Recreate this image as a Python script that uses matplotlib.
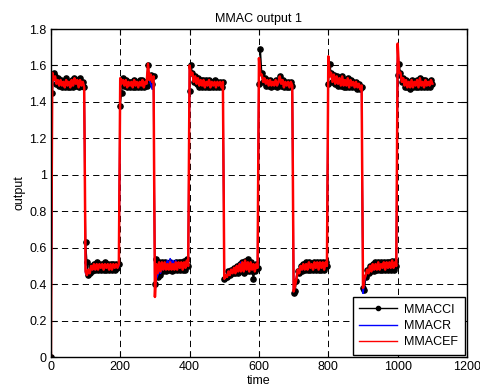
import numpy as np
import matplotlib
matplotlib.use("Agg")
import matplotlib.pyplot as plt

plt.rcParams['font.family'] = ['Liberation Sans', 'DejaVu Sans']
plt.rcParams['font.size'] = 9
plt.rcParams['lines.scale_dashes'] = False

# segment start times (each segment sampled every 4 time units)
seg_starts = [0, 100, 200, 300, 400, 500, 600, 700, 800, 900, 1000]
sample_step = 4

# MMACCI (black, dotted markers)
cci = [
    [0.00, 1.45, 1.56, 1.54, 1.50, 1.53, 1.49, 1.52, 1.48, 1.51, 1.48, 1.53, 1.48, 1.51, 1.48, 1.52, 1.48, 1.53, 1.49, 1.52, 1.48, 1.53, 1.49, 1.51, 1.48],
    [0.63, 0.52, 0.45, 0.46, 0.50, 0.47, 0.51, 0.48, 0.52, 0.48, 0.51, 0.48, 0.51, 0.48, 0.52, 0.48, 0.51, 0.48, 0.51, 0.48, 0.51, 0.48, 0.51, 0.49, 0.51],
    [1.38, 1.45, 1.53, 1.49, 1.52, 1.48, 1.51, 1.48, 1.51, 1.48, 1.52, 1.48, 1.51, 1.48, 1.52, 1.48, 1.52, 1.48, 1.51, 1.49, 1.60, 1.52, 1.55, 1.50, 1.54],
    [0.40, 0.54, 0.44, 0.52, 0.45, 0.52, 0.47, 0.52, 0.47, 0.51, 0.48, 0.52, 0.47, 0.51, 0.48, 0.52, 0.48, 0.52, 0.48, 0.52, 0.48, 0.53, 0.48, 0.54, 0.50],
    [1.46, 1.60, 1.56, 1.51, 1.54, 1.50, 1.53, 1.48, 1.52, 1.48, 1.52, 1.48, 1.52, 1.48, 1.52, 1.48, 1.51, 1.48, 1.52, 1.48, 1.51, 1.48, 1.51, 1.48, 1.51],
    [0.43, 0.44, 0.44, 0.47, 0.45, 0.48, 0.46, 0.49, 0.46, 0.50, 0.46, 0.51, 0.47, 0.52, 0.46, 0.53, 0.47, 0.54, 0.47, 0.52, 0.47, 0.43, 0.47, 0.51, 0.49],
    [1.50, 1.69, 1.56, 1.51, 1.53, 1.49, 1.52, 1.49, 1.52, 1.48, 1.51, 1.49, 1.52, 1.48, 1.51, 1.54, 1.49, 1.52, 1.48, 1.51, 1.48, 1.51, 1.48, 1.51, 1.49],
    [0.35, 0.36, 0.42, 0.47, 0.46, 0.50, 0.47, 0.51, 0.48, 0.52, 0.48, 0.52, 0.48, 0.51, 0.48, 0.52, 0.48, 0.52, 0.48, 0.52, 0.48, 0.52, 0.48, 0.52, 0.50],
    [1.50, 1.61, 1.56, 1.51, 1.55, 1.50, 1.54, 1.49, 1.53, 1.49, 1.54, 1.48, 1.52, 1.48, 1.53, 1.48, 1.52, 1.48, 1.51, 1.48, 1.51, 1.47, 1.50, 1.47, 1.48],
    [0.38, 0.37, 0.44, 0.48, 0.46, 0.50, 0.47, 0.51, 0.47, 0.52, 0.48, 0.52, 0.48, 0.52, 0.48, 0.52, 0.48, 0.52, 0.48, 0.52, 0.48, 0.53, 0.48, 0.53, 0.50],
    [1.55, 1.61, 1.56, 1.51, 1.53, 1.48, 1.52, 1.48, 1.51, 1.47, 1.52, 1.48, 1.51, 1.48, 1.52, 1.48, 1.53, 1.48, 1.52, 1.48, 1.52, 1.48, 1.51, 1.48, 1.52, 1.50],
]

# MMACR (blue)
cr = [
    [0.00, 1.54, 1.52, 1.52, 1.50, 1.51, 1.49, 1.51, 1.49, 1.50, 1.49, 1.51, 1.49, 1.50, 1.49, 1.51, 1.49, 1.52, 1.50, 1.51, 1.49, 1.51, 1.49, 1.50, 1.49],
    [0.46, 0.45, 0.47, 0.47, 0.49, 0.48, 0.50, 0.48, 0.50, 0.49, 0.50, 0.49, 0.50, 0.49, 0.50, 0.49, 0.50, 0.49, 0.50, 0.49, 0.50, 0.49, 0.50, 0.49, 0.50],
    [1.52, 1.51, 1.51, 1.50, 1.51, 1.49, 1.50, 1.49, 1.50, 1.49, 1.51, 1.49, 1.50, 1.49, 1.50, 1.49, 1.51, 1.49, 1.50, 1.50, 1.58, 1.52, 1.50, 1.47, 1.52],
    [0.36, 0.43, 0.45, 0.47, 0.46, 0.49, 0.48, 0.51, 0.50, 0.53, 0.51, 0.54, 0.51, 0.53, 0.50, 0.53, 0.49, 0.51, 0.49, 0.50, 0.50, 0.51, 0.50, 0.51, 0.51],
    [1.59, 1.55, 1.55, 1.52, 1.53, 1.51, 1.52, 1.50, 1.51, 1.50, 1.51, 1.49, 1.50, 1.49, 1.51, 1.49, 1.50, 1.49, 1.50, 1.49, 1.50, 1.49, 1.50, 1.49, 1.50],
    [0.43, 0.45, 0.45, 0.47, 0.46, 0.48, 0.47, 0.49, 0.48, 0.50, 0.49, 0.51, 0.52, 0.51, 0.50, 0.52, 0.49, 0.51, 0.48, 0.51, 0.49, 0.50, 0.48, 0.50, 0.49],
    [1.63, 1.55, 1.54, 1.52, 1.52, 1.50, 1.51, 1.50, 1.51, 1.50, 1.50, 1.49, 1.51, 1.49, 1.50, 1.53, 1.50, 1.51, 1.49, 1.50, 1.49, 1.50, 1.49, 1.50, 1.49],
    [0.36, 0.39, 0.44, 0.47, 0.47, 0.49, 0.48, 0.50, 0.49, 0.50, 0.49, 0.51, 0.49, 0.50, 0.49, 0.51, 0.49, 0.51, 0.49, 0.51, 0.49, 0.51, 0.49, 0.51, 0.50],
    [1.63, 1.54, 1.55, 1.52, 1.54, 1.51, 1.53, 1.50, 1.52, 1.50, 1.53, 1.49, 1.51, 1.49, 1.52, 1.49, 1.51, 1.49, 1.50, 1.48, 1.50, 1.48, 1.49, 1.47, 1.48],
    [0.35, 0.41, 0.45, 0.47, 0.47, 0.49, 0.48, 0.50, 0.48, 0.50, 0.49, 0.51, 0.49, 0.50, 0.49, 0.51, 0.49, 0.51, 0.49, 0.51, 0.49, 0.52, 0.49, 0.51, 0.50],
    [1.70, 1.56, 1.55, 1.52, 1.52, 1.50, 1.51, 1.49, 1.50, 1.49, 1.51, 1.49, 1.50, 1.49, 1.51, 1.49, 1.52, 1.49, 1.50, 1.49, 1.51, 1.49, 1.50, 1.49, 1.51, 1.50],
]

# MMACEF (red)
cef = [
    [0.00, 1.56, 1.52, 1.54, 1.50, 1.52, 1.49, 1.52, 1.49, 1.51, 1.48, 1.52, 1.49, 1.51, 1.48, 1.52, 1.49, 1.53, 1.50, 1.52, 1.48, 1.52, 1.49, 1.51, 1.48],
    [0.47, 0.45, 0.48, 0.46, 0.50, 0.48, 0.51, 0.48, 0.51, 0.48, 0.51, 0.49, 0.51, 0.48, 0.51, 0.49, 0.51, 0.48, 0.51, 0.48, 0.51, 0.49, 0.51, 0.49, 0.51],
    [1.53, 1.50, 1.52, 1.49, 1.52, 1.48, 1.51, 1.49, 1.51, 1.48, 1.52, 1.49, 1.51, 1.48, 1.51, 1.49, 1.52, 1.48, 1.51, 1.50, 1.61, 1.52, 1.55, 1.51, 1.54],
    [0.33, 0.51, 0.46, 0.52, 0.47, 0.52, 0.48, 0.52, 0.48, 0.51, 0.48, 0.52, 0.48, 0.51, 0.48, 0.52, 0.48, 0.52, 0.49, 0.52, 0.48, 0.52, 0.49, 0.53, 0.50],
    [1.60, 1.55, 1.56, 1.51, 1.54, 1.50, 1.53, 1.49, 1.52, 1.49, 1.52, 1.48, 1.51, 1.49, 1.52, 1.48, 1.51, 1.49, 1.51, 1.48, 1.51, 1.49, 1.51, 1.48, 1.51],
    [0.43, 0.45, 0.44, 0.47, 0.45, 0.48, 0.46, 0.49, 0.46, 0.50, 0.47, 0.51, 0.47, 0.52, 0.47, 0.53, 0.48, 0.52, 0.47, 0.52, 0.48, 0.51, 0.47, 0.51, 0.49],
    [1.64, 1.55, 1.55, 1.51, 1.53, 1.50, 1.52, 1.49, 1.52, 1.49, 1.51, 1.49, 1.52, 1.49, 1.51, 1.54, 1.50, 1.52, 1.48, 1.51, 1.49, 1.51, 1.48, 1.51, 1.49],
    [0.36, 0.39, 0.43, 0.48, 0.46, 0.50, 0.48, 0.51, 0.48, 0.51, 0.48, 0.52, 0.49, 0.51, 0.48, 0.52, 0.49, 0.52, 0.48, 0.52, 0.49, 0.52, 0.48, 0.52, 0.50],
    [1.65, 1.54, 1.56, 1.51, 1.55, 1.50, 1.54, 1.50, 1.53, 1.49, 1.54, 1.49, 1.52, 1.49, 1.53, 1.48, 1.52, 1.49, 1.51, 1.48, 1.51, 1.48, 1.50, 1.47, 1.49],
    [0.38, 0.43, 0.45, 0.48, 0.46, 0.50, 0.47, 0.51, 0.48, 0.51, 0.48, 0.52, 0.48, 0.51, 0.49, 0.52, 0.48, 0.52, 0.49, 0.52, 0.49, 0.53, 0.49, 0.52, 0.50],
    [1.72, 1.56, 1.56, 1.51, 1.53, 1.49, 1.52, 1.48, 1.51, 1.48, 1.52, 1.48, 1.51, 1.49, 1.52, 1.48, 1.53, 1.49, 1.51, 1.48, 1.52, 1.49, 1.51, 1.49, 1.52, 1.50],
]

labels = ['MMACCI', 'MMACR', 'MMACEF']
x_ticks = [0, 200, 400, 600, 800, 1000, 1200]
y_ticks = [0, 0.2, 0.4, 0.6, 0.8, 1.0, 1.2, 1.4, 1.6, 1.8]
y_tick_labels = ['0', '0.2', '0.4', '0.6', '0.8', '1', '1.2', '1.4', '1.6', '1.8']


def flatten(segs):
    tt, vv = [], []
    for s, seg in zip(seg_starts, segs):
        tt.extend(s + sample_step * np.arange(len(seg)))
        vv.extend(seg)
    return np.array(tt, float), np.array(vv, float)


fig = plt.figure(figsize=(4.8, 3.92), dpi=100)
ax = fig.add_axes([0.106, 0.089, 0.867, 0.837])

t1, v1 = flatten(cci)
t2, v2 = flatten(cr)
t3, v3 = flatten(cef)
ax.plot(t1, v1, color='black', marker='.', markersize=7.5, linewidth=1.0, label=labels[0])
ax.plot(t2, v2, color='blue', linewidth=1.2, label=labels[1])
ax.plot(t3, v3, color='red', linewidth=1.8, label=labels[2])

ax.set_xlim(0, 1200)
ax.set_ylim(0, 1.8)
ax.set_xticks(x_ticks)
ax.set_yticks(y_ticks)
ax.set_yticklabels(y_tick_labels)
ax.grid(True, color='black', linestyle=(0, (4.5, 3)), linewidth=0.7)
ax.tick_params(direction='in', top=True, right=True, length=4, width=0.8, labelsize=9, pad=3)
for sp in ax.spines.values():
    sp.set_linewidth(1.0)

ax.set_title('MMAC output 1', fontsize=9, pad=5)
ax.set_xlabel('time', fontsize=9, labelpad=1)
ax.set_ylabel('output', fontsize=9, labelpad=3)

leg = ax.legend(loc='lower right', fontsize=9, frameon=True, fancybox=False,
                edgecolor='black', framealpha=1, borderaxespad=0.2,
                handlelength=3.0, handletextpad=0.6, labelspacing=0.35,
                borderpad=0.5, markerscale=0.8)
leg.get_frame().set_linewidth(1.0)
for ln in leg.get_lines():
    ln.set_linewidth(1.0)

fig.savefig('out.png', dpi=100)
